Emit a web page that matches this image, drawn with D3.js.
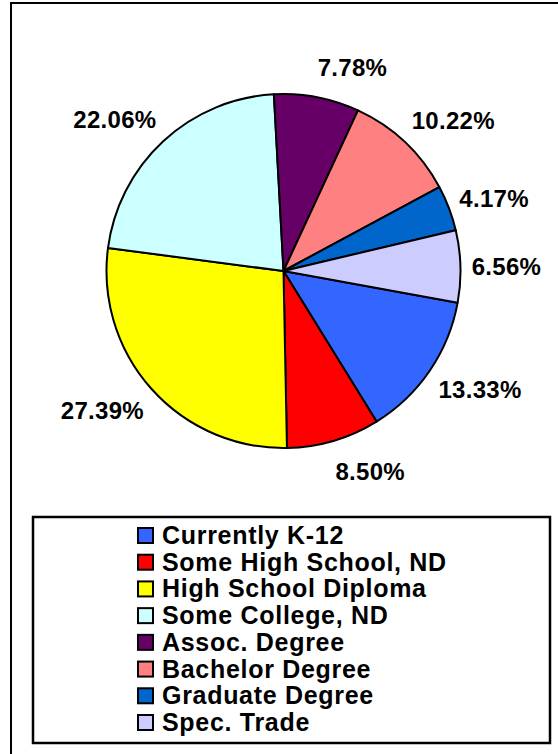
<!DOCTYPE html>
<html>
<head>
<meta charset="utf-8">
<script src="https://cdn.jsdelivr.net/npm/d3@7"></script>
<style>
  html, body { margin: 0; padding: 0; background: #fff; }
  svg { display: block; }
  text { font-family: "Liberation Sans", Arial, sans-serif; font-weight: bold; fill: #000; }
</style>
</head>
<body>
<svg id="chart" width="558" height="754"></svg>
<script>
const categories = ["Currently K-12", "Some High School, ND", "High School Diploma", "Some College, ND",
                    "Assoc. Degree", "Bachelor Degree", "Graduate Degree", "Spec. Trade"];
const values = [13.33, 8.50, 27.39, 22.06, 7.78, 10.22, 4.17, 6.56];
const labels = ["13.33%", "8.50%", "27.39%", "22.06%", "7.78%", "10.22%", "4.17%", "6.56%"];
const colors = ["#3366FF", "#FF0000", "#FFFF00", "#CCFFFF", "#660066", "#FF8080", "#0066CC", "#CCCCFF"];

const svg = d3.select("#chart");

// outer chart frame
svg.append("rect").attr("x", 11).attr("y", 3).attr("width", 580).attr("height", 780)
  .attr("fill", "#fff").attr("stroke", "#000").attr("stroke-width", 2);

const cx = 283.5, cy = 271, R = 177;
const start = 100.3 * Math.PI / 180;
const pie = d3.pie().sort(null).value(d => d).startAngle(start).endAngle(start + 2 * Math.PI);
const arcs = pie(values);
const arc = d3.arc().innerRadius(0).outerRadius(R);

const g = svg.append("g").attr("transform", `translate(${cx},${cy})`);
g.selectAll("path.slice").data(arcs).enter().append("path")
  .attr("class", "slice")
  .attr("d", arc)
  .attr("fill", (d, i) => colors[i])
  .attr("stroke", "#000").attr("stroke-width", 2).attr("stroke-linejoin", "round");

// data labels
const Rl = 190, k = 0.95, Ry = 208;
g.selectAll("text.lbl").data(arcs).enter().append("text")
  .attr("class", "lbl")
  .attr("font-size", 24)
  .attr("letter-spacing", 0.3)
  .attr("text-anchor", "middle")
  .attr("dominant-baseline", "central")
  .text((d, i) => labels[i])
  .each(function(d) {
    const a = (d.startAngle + d.endAngle) / 2;
    const s = Math.sin(a), c = Math.cos(a);
    const w = this.getComputedTextLength();
    const x = Rl * s + Math.sign(s) * w / 2 * k;
    const y = -Ry * c + 1;
    d3.select(this).attr("x", x).attr("y", y);
  });

// legend
const lg = svg.append("g");
lg.append("rect").attr("x", 33).attr("y", 517).attr("width", 517).attr("height", 226)
  .attr("fill", "#fff").attr("stroke", "#000").attr("stroke-width", 2.5);

const rowY = d3.scaleLinear().domain([0, categories.length - 1]).range([527, 714]);
const items = lg.selectAll("g.item").data(categories).enter().append("g").attr("class", "item")
  .attr("transform", (d, i) => `translate(0,${rowY(i)})`);
items.append("rect").attr("x", 138).attr("y", 1).attr("width", 15).attr("height", 15)
  .attr("fill", (d, i) => colors[i]).attr("stroke", "#000").attr("stroke-width", 2);
items.append("text").attr("x", 162).attr("y", 17).attr("font-size", 25)
  .attr("letter-spacing", 0.7).text(d => d);
</script>
</body>
</html>
